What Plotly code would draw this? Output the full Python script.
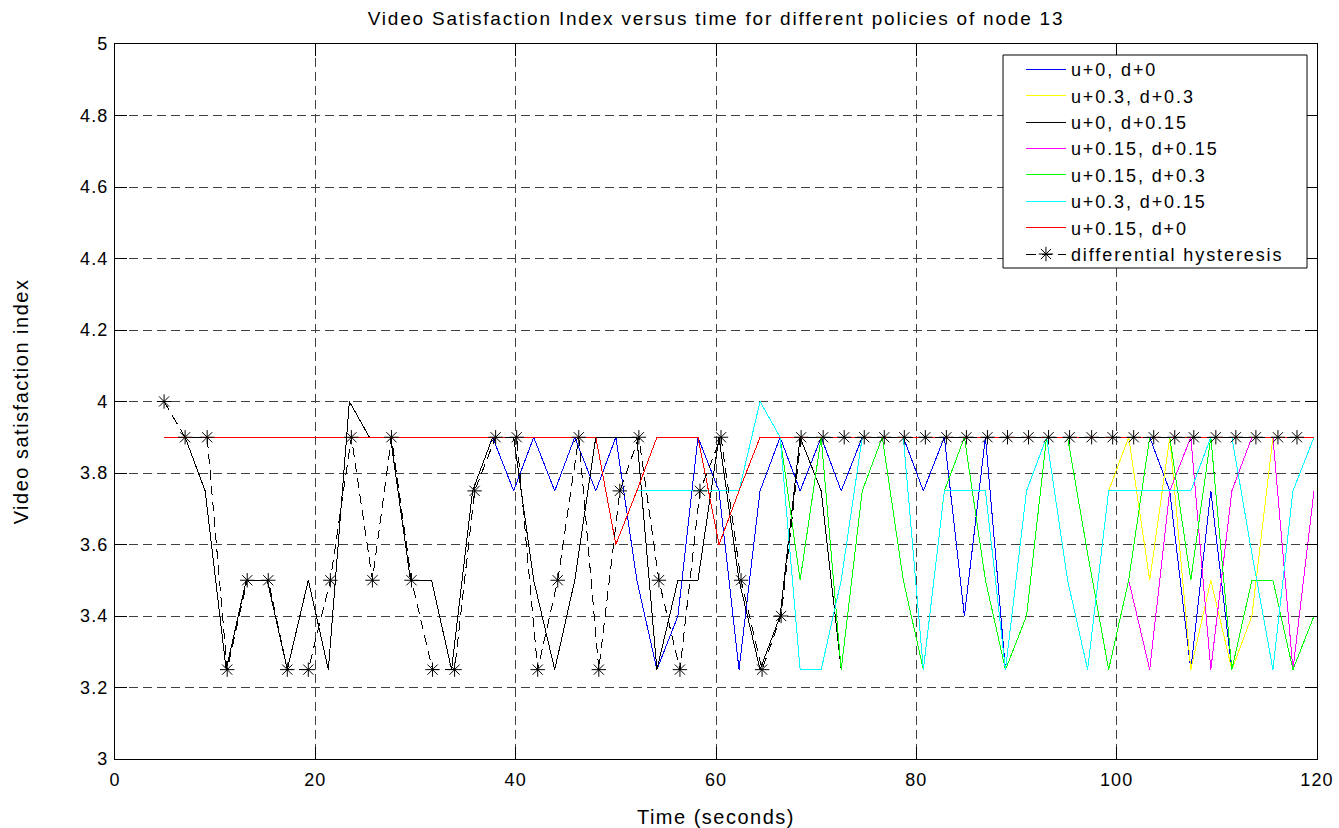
import plotly.graph_objects as go

# Sample times (s) of the policy curves
t_policy = [4.9, 7.0, 9.0, 11.1, 13.1, 15.2, 17.2, 19.3, 21.3, 23.4,
            25.4, 27.5, 29.5, 31.6, 33.6, 35.7, 37.7, 39.8, 41.8, 43.9,
            45.9, 48.0, 50.0, 52.1, 54.1, 56.2, 58.2, 60.3, 62.3, 64.4,
            66.4, 68.4, 70.5, 72.5, 74.6, 76.6, 78.7, 80.7, 82.8, 84.8,
            86.9, 88.9, 91.0, 93.0, 95.1, 97.1, 99.2, 101.2, 103.3, 105.3,
            107.4, 109.4, 111.5, 113.5, 115.6, 117.6, 119.7]

# Sample times (s) of the differential hysteresis curve
t_hyst = [4.9, 7.0, 9.2, 11.2, 13.2, 15.3, 17.2, 19.3, 21.5, 23.6,
          25.7, 27.6, 29.6, 31.7, 33.9, 35.9, 38.0, 40.1, 42.2, 44.2,
          46.3, 48.3, 50.4, 52.3, 54.3, 56.4, 58.4, 60.5, 62.5, 64.6,
          66.5, 68.5, 70.7, 72.8, 74.8, 76.8, 78.8, 80.9, 83.0, 85.0,
          87.1, 89.1, 91.2, 93.2, 95.3, 97.5, 99.6, 101.7, 103.7, 105.8,
          107.7, 109.9, 111.9, 113.9, 116.1, 118.0]

u0_d0 = [3.9, 3.9, 3.75, 3.25, 3.5, 3.5, 3.25, 3.5, 3.25, 4.0,
         3.9, 3.9, 3.5, 3.5, 3.25, 3.75, 3.9, 3.75, 3.9, 3.75,
         3.9, 3.75, 3.9, 3.5, 3.25, 3.4, 3.9, 3.75, 3.25, 3.75,
         3.9, 3.75, 3.9, 3.75, 3.9, 3.9, 3.9, 3.75, 3.9, 3.4,
         3.9, 3.25, 3.4, 3.9, 3.9, 3.575, 3.25, 3.5, 3.9, 3.75,
         3.25, 3.75, 3.25, 3.5, 3.5, 3.25, 3.4]

u03_d03 = [3.9, 3.9, 3.9, 3.9, 3.9, 3.9, 3.9, 3.9, 3.9, 3.9,
           3.9, 3.9, 3.9, 3.9, 3.9, 3.9, 3.9, 3.9, 3.9, 3.9,
           3.9, 3.9, 3.6, 3.75, 3.75, 3.75, 3.75, 3.75, 3.75, 4.0,
           3.9, 3.25, 3.25, 3.5, 3.9, 3.9, 3.9, 3.25, 3.75, 3.75,
           3.75, 3.25, 3.75, 3.9, 3.5, 3.25, 3.75, 3.9, 3.5, 3.9,
           3.25, 3.5, 3.25, 3.4, 3.9, 3.25, 3.75]

u0_d015 = [3.9, 3.9, 3.75, 3.25, 3.5, 3.5, 3.25, 3.5, 3.25, 4.0,
           3.9, 3.9, 3.5, 3.5, 3.25, 3.75, 3.9, 3.9, 3.5, 3.25,
           3.5, 3.9, 3.9, 3.9, 3.25, 3.5, 3.5, 3.9, 3.5, 3.25,
           3.4, 3.9, 3.75, 3.25, 3.75, 3.9, 3.5, 3.25, 3.75, 3.9,
           3.5, 3.25, 3.4, 3.9, 3.9, 3.575, 3.25, 3.5, 3.9, 3.9,
           3.9, 3.9, 3.25, 3.5, 3.5, 3.25, 3.4]

u015_d015 = [3.9, 3.9, 3.9, 3.9, 3.9, 3.9, 3.9, 3.9, 3.9, 3.9,
             3.9, 3.9, 3.9, 3.9, 3.9, 3.9, 3.9, 3.9, 3.9, 3.9,
             3.9, 3.9, 3.6, 3.75, 3.9, 3.9, 3.9, 3.6, 3.75, 3.9,
             3.9, 3.5, 3.9, 3.25, 3.75, 3.9, 3.5, 3.25, 3.75, 3.9,
             3.5, 3.25, 3.4, 3.9, 3.9, 3.575, 3.25, 3.5, 3.25, 3.75,
             3.9, 3.25, 3.75, 3.9, 3.9, 3.25, 3.75]

u015_d03 = [3.9, 3.9, 3.9, 3.9, 3.9, 3.9, 3.9, 3.9, 3.9, 3.9,
            3.9, 3.9, 3.9, 3.9, 3.9, 3.9, 3.9, 3.9, 3.9, 3.9,
            3.9, 3.9, 3.6, 3.75, 3.9, 3.9, 3.9, 3.6, 3.75, 3.9,
            3.9, 3.5, 3.9, 3.25, 3.75, 3.9, 3.5, 3.25, 3.75, 3.9,
            3.5, 3.25, 3.4, 3.9, 3.9, 3.575, 3.25, 3.5, 3.9, 3.9,
            3.5, 3.9, 3.25, 3.5, 3.5, 3.25, 3.4]

u03_d015 = [3.9, 3.9, 3.9, 3.9, 3.9, 3.9, 3.9, 3.9, 3.9, 3.9,
            3.9, 3.9, 3.9, 3.9, 3.9, 3.9, 3.9, 3.9, 3.9, 3.9,
            3.9, 3.9, 3.6, 3.75, 3.75, 3.75, 3.75, 3.75, 3.75, 4.0,
            3.9, 3.25, 3.25, 3.5, 3.9, 3.9, 3.9, 3.25, 3.75, 3.75,
            3.75, 3.25, 3.75, 3.9, 3.5, 3.25, 3.75, 3.75, 3.75, 3.75,
            3.75, 3.9, 3.9, 3.575, 3.25, 3.75, 3.9]

u015_d0 = [3.9, 3.9, 3.9, 3.9, 3.9, 3.9, 3.9, 3.9, 3.9, 3.9,
           3.9, 3.9, 3.9, 3.9, 3.9, 3.9, 3.9, 3.9, 3.9, 3.9,
           3.9, 3.9, 3.6, 3.75, 3.9, 3.9, 3.9, 3.6, 3.75, 3.9,
           3.9, 3.9, 3.9, 3.9, 3.9, 3.9, 3.9, 3.9, 3.9, 3.9,
           3.9, 3.9, 3.9, 3.9, 3.9, 3.9, 3.9, 3.9, 3.9, 3.9,
           3.9, 3.9, 3.9, 3.9, 3.9, 3.9, 3.9]

diff_hyst = [4.0, 3.9, 3.9, 3.25, 3.5, 3.5, 3.25, 3.25, 3.5, 3.9,
             3.5, 3.9, 3.5, 3.25, 3.25, 3.75, 3.9, 3.9, 3.25, 3.5,
             3.9, 3.25, 3.75, 3.9, 3.5, 3.25, 3.75, 3.9, 3.5, 3.25,
             3.4, 3.9, 3.9, 3.9, 3.9, 3.9, 3.9, 3.9, 3.9, 3.9,
             3.9, 3.9, 3.9, 3.9, 3.9, 3.9, 3.9, 3.9, 3.9, 3.9,
             3.9, 3.9, 3.9, 3.9, 3.9, 3.9]

policies = [
    ("u+0, d+0", u0_d0, "#0000ff"),
    ("u+0.3, d+0.3", u03_d03, "#ffff00"),
    ("u+0, d+0.15", u0_d015, "#000000"),
    ("u+0.15, d+0.15", u015_d015, "#ff00ff"),
    ("u+0.15, d+0.3", u015_d03, "#00ff00"),
    ("u+0.3, d+0.15", u03_d015, "#00ffff"),
    ("u+0.15, d+0", u015_d0, "#ff0000"),
]

FONT = "Liberation Sans, Arial, Helvetica, sans-serif"

fig = go.Figure()
for name, vals, color in policies:
    fig.add_trace(go.Scatter(
        x=t_policy, y=vals, name=name, mode="lines",
        line=dict(color=color, width=1),
    ))

fig.add_trace(go.Scatter(
    x=t_hyst, y=diff_hyst, name="differential hysteresis",
    mode="lines+markers",
    line=dict(color="#000000", width=1, dash="10px,6px"),
    marker=dict(symbol="asterisk-open", size=12,
                line=dict(color="#000000", width=1)),
))

axis_common = dict(
    showline=True, linecolor="#000000", linewidth=1, mirror="ticks",
    ticks="inside", ticklen=12, tickcolor="#000000", tickwidth=1,
    showgrid=True, gridcolor="#404040", gridwidth=1, griddash="9px,5px",
    zeroline=False, automargin=False,
    tickfont=dict(family=FONT, size=18, color="#000000"),
)

fig.update_layout(
    width=1339, height=828,
    margin=dict(l=115, r=22, t=44, b=69),
    paper_bgcolor="#ffffff", plot_bgcolor="#ffffff",
    font=dict(family=FONT, size=18, color="#000000"),
    title=dict(
        text="Video Satisfaction Index versus time for different policies of node 13",
        x=0.5, xref="paper", xanchor="center",
        y=1 - 18 / 828, yref="container", yanchor="middle",
        font=dict(family=FONT, size=19, color="#000000"),
    ),
    xaxis=dict(range=[0, 120], dtick=20, tick0=0,
               title=dict(text="Time (seconds)", standoff=24,
                          font=dict(family=FONT, size=20)),
               ticklabelstandoff=4, **axis_common),
    yaxis=dict(range=[3, 5], dtick=0.2, tick0=3,
               title=dict(text="Video satisfaction index", standoff=49,
                          font=dict(family=FONT, size=20)),
               ticklabelstandoff=2, **axis_common),
    showlegend=True,
    legend=dict(
        x=0.7537, y=0.9902, xanchor="left", yanchor="top",
        bgcolor="rgba(0,0,0,0)", borderwidth=0,
        font=dict(family=FONT, size=18, color="#000000"),
        itemwidth=40, tracegroupgap=0,
    ),
    shapes=[dict(
        type="rect", xref="paper", yref="paper",
        x0=0.7388, x1=0.9917, y0=0.6867, y1=0.9846,
        line=dict(color="#000000", width=1), fillcolor="#ffffff",
        layer="above",
    )],
)

# Spaced lettering and aliased (crisp) curve strokes
style_css = (
    "var s=document.createElement('style');"
    "s.textContent='"
    ".main-svg .xtick text,.main-svg .ytick text{letter-spacing:1.1px;}"
    ".main-svg .gtitle{letter-spacing:1.8px;}"
    ".main-svg .xtitle,.main-svg .ytitle{letter-spacing:1.5px;}"
    ".main-svg .legendtext{letter-spacing:1.9px;}"
    ".main-svg .legend .scrollbox{clip-path:none !important;}"
    ".main-svg .scatterlayer .js-line{shape-rendering:crispEdges;}"
    ".main-svg .legendlines path{shape-rendering:crispEdges;}"
    "';"
    "document.head.appendChild(s);"
)

fig.write_html("out.html", post_script=style_css)
